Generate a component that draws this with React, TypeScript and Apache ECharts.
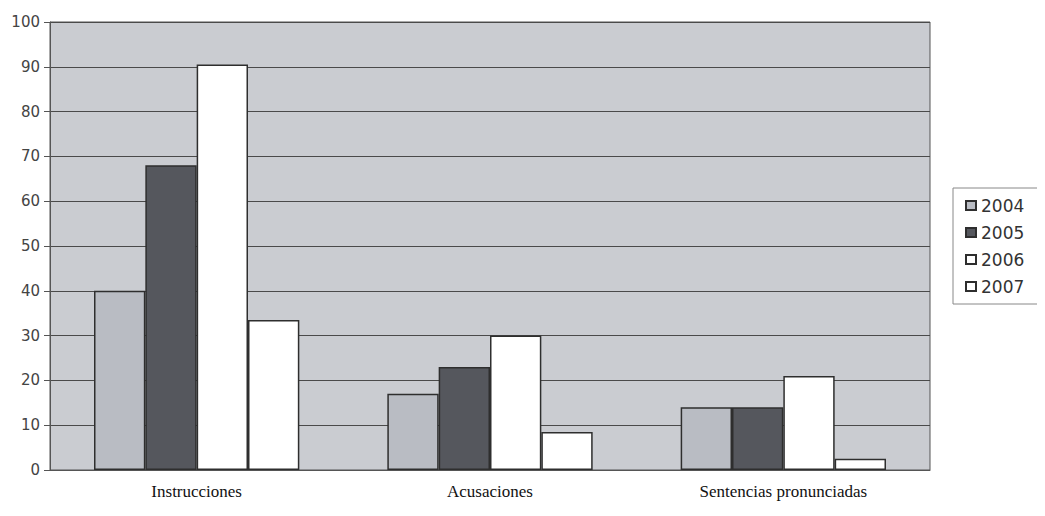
import React, { useEffect, useRef } from "react";
import * as echarts from "echarts";

// Categories and yearly values
const categories = ["Instrucciones", "Acusaciones", "Sentencias pronunciadas"];
const years = ["2004", "2005", "2006", "2007"];
const values2004 = [40, 17, 14];
const values2005 = [68, 23, 14];
const values2006 = [90.5, 30, 21];
const values2007 = [33.5, 8.5, 2.5];
const yTicks = [0, 10, 20, 30, 40, 50, 60, 70, 80, 90, 100];

const seriesValues = [values2004, values2005, values2006, values2007];
const seriesColors = ["#b9bcc3", "#55575d", "#ffffff", "#ffffff"];

export default function App() {
  const ref = useRef<HTMLDivElement>(null);

  useEffect(() => {
    if (!ref.current) return;
    const chart = echarts.init(ref.current, undefined, { renderer: "svg" });
    chart.setOption({
      animation: false,
      backgroundColor: "#ffffff",
      grid: {
        left: 50,
        right: 115,
        top: 22,
        bottom: 46,
        show: true,
        backgroundColor: "#caccd1",
        borderColor: "#555",
        borderWidth: 1,
      },
      legend: {
        orient: "vertical",
        left: 953,
        top: 188,
        padding: [9, 18, 9, 12],
        borderColor: "#888",
        borderWidth: 1,
        itemWidth: 10,
        itemHeight: 9,
        itemGap: 10,
        data: years,
        textStyle: {
          fontFamily: "DejaVu Sans, Verdana, sans-serif",
          fontSize: 17,
          color: "#333",
        },
        icon: "rect",
      },
      xAxis: {
        type: "category",
        data: categories,
        axisLine: { show: true, lineStyle: { color: "#555", width: 1 } },
        axisTick: { show: false },
        axisLabel: {
          fontFamily: "Liberation Serif, Times New Roman, serif",
          fontSize: 17,
          color: "#111",
          margin: 13,
        },
      },
      yAxis: {
        type: "value",
        min: 0,
        max: 100,
        interval: 10,
        axisLine: { show: true, lineStyle: { color: "#555", width: 1 } },
        axisTick: { show: true, length: 6, lineStyle: { color: "#555" } },
        splitLine: { show: true, lineStyle: { color: "#4a4a4a", width: 1 } },
        axisLabel: {
          fontFamily: "DejaVu Sans, Verdana, sans-serif",
          fontSize: 15,
          color: "#444",
          margin: 10,
          formatter: (v: number) => (yTicks.includes(v) ? String(v) : ""),
        },
      },
      series: years.map((year, i) => ({
        name: year,
        type: "bar",
        data: seriesValues[i],
        barGap: "0%",
        barCategoryGap: "30%",
        itemStyle: {
          color: seriesColors[i],
          borderColor: "#2e2e2e",
          borderWidth: 1.5,
        },
      })),
    });
    return () => chart.dispose();
  }, []);

  return <div ref={ref} style={{ width: 1045, height: 516, margin: -8 }} />;
}
